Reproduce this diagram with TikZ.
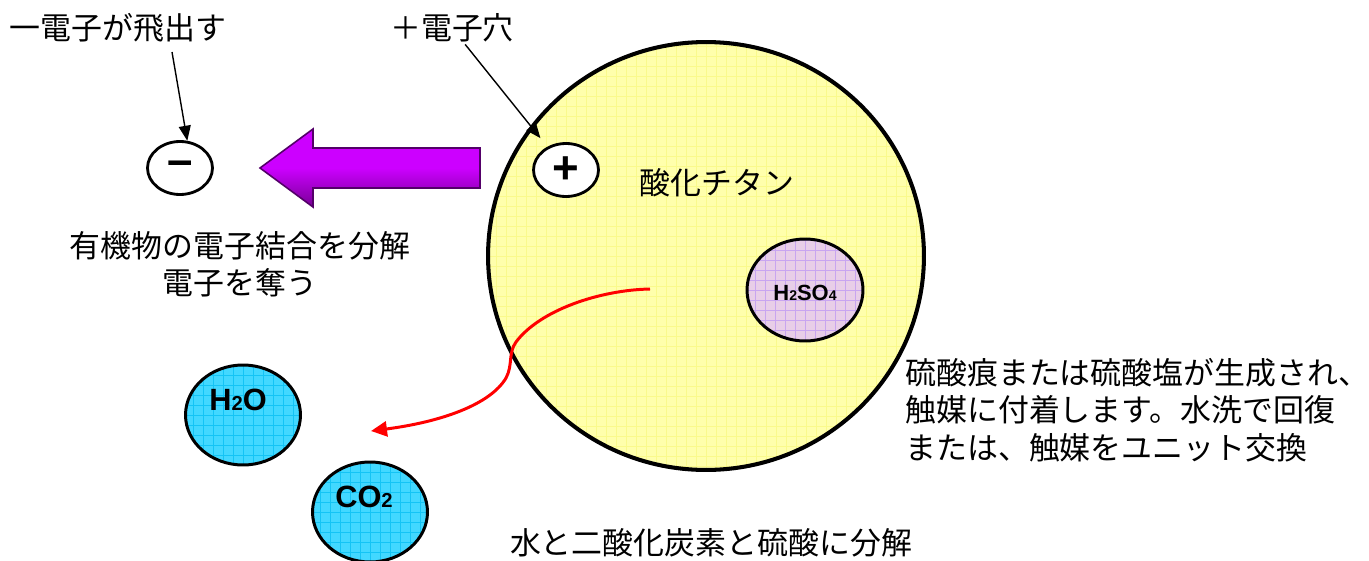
\documentclass[tikz,border=0pt]{standalone}
\usepackage{fontspec}
\setmainfont{Noto Sans CJK JP}
\newfontfamily\chemfont{Liberation Sans}
\usetikzlibrary{shapes,arrows.meta}

\definecolor{tiyellow}{RGB}{255,255,172}
\definecolor{tigrid}{RGB}{250,250,140}
\definecolor{acidfill}{RGB}{232,206,232}
\definecolor{acidgrid}{RGB}{200,165,240}
\definecolor{gasfill}{RGB}{66,216,255}
\definecolor{gasgrid}{RGB}{20,196,245}
\definecolor{arrowpurple}{RGB}{204,0,255}
\definecolor{arrowdark}{RGB}{120,0,150}

\newcommand{\chemsub}[1]{{\fontsize{11.5}{11.5}\selectfont #1}}
\newcommand{\acidsub}[1]{{\fontsize{8}{8}\selectfont #1}}

\tikzset{
	jptext/.style={font=\fontsize{17.6}{21.3}\selectfont, inner sep=1pt},
	gridfill/.style={path picture={\draw[#1, line width=0.45pt] (path picture bounding box.south west) grid[step=0.2cm] (path picture bounding box.north east);}},
	charge/.style={ellipse, draw, line width=1.6pt, fill=white, inner sep=0pt, minimum width=1.3cm, minimum height=1.06cm, font=\chemfont\bfseries\fontsize{26}{26}\selectfont},
	molecule/.style={ellipse, draw, line width=1.7pt, inner sep=0pt, fill=gasfill, gridfill=gasgrid, minimum width=2.3cm, minimum height=2cm},
	chemlabel/.style={font=\chemfont\bfseries\fontsize{17.5}{17.5}\selectfont, inner sep=0pt},
	pointer/.style={line width=0.8pt, -{Triangle[length=0.3cm, width=0.24cm]}},
	redflow/.style={red, line width=1.7pt, -{Triangle[length=0.32cm, width=0.3cm]}}
}

\begin{document}
\begin{tikzpicture}[x=0.02cm, y=-0.02cm]
	\useasboundingbox (0,0) rectangle (1369,561);

	% titanium oxide particle
	\node[ellipse, draw, line width=2.3pt, fill=tiyellow, gridfill=tigrid, minimum width=8.72cm, minimum height=8.56cm, inner sep=0pt] (tio2) at (706,256) {};
	\node[jptext] (tio2label) at (717,183) {酸化チタン};

	\node[ellipse, draw, line width=1.7pt, fill=acidfill, gridfill=acidgrid, minimum width=2.32cm, minimum height=2.04cm, inner sep=0pt] (acid) at (805,290) {};
	\node[font=\chemfont\bfseries\fontsize{12.5}{12.5}\selectfont, inner sep=0pt] (acidlabel) at (805,293) {H\acidsub{2}SO\acidsub{4}};

	% charges
	\node[charge] (hole) at (566,170) {+};
	\node[charge] (electron) at (180,168) {–};

	\node[jptext] (electronlabel) at (118,28) {一電子が飛出す};
	\node[jptext] (holelabel) at (452,28) {＋電子穴};
	\coordinate (electronstart) at (172,52);
	\draw[pointer] (electronstart) -- (electron.75);
	\draw[pointer, shorten >=0.22cm] (holelabel) -- (hole);

	% purple arrow
	\draw[line width=0.9pt, draw=arrowdark!70!black, top color=arrowpurple, bottom color=arrowdark, middle color=arrowpurple]
		(480,148) -- (313,148) -- (313,129) -- (260,168) -- (313,207) -- (313,188) -- (480,188) -- cycle;

	\node[jptext, align=center] (organic) at (240,264) {有機物の電子結合を分解\\電子を奪う};

	% products
	\node[molecule] (water) at (243,415) {};
	\node[chemlabel] (waterlabel) at (238,400) {H\chemsub{2}O};
	\node[molecule] (carbon) at (370,512) {};
	\node[chemlabel] (carbonlabel) at (364,497) {CO\chemsub{2}};

	\coordinate (redstart) at (650,289);
	\coordinate (redend) at (371,431);
	\draw[redflow] (redstart) .. controls (600,290) and (540,310) .. (516,342)
		.. controls (508,353) and (513,365) .. (506,378)
		.. controls (490,405) and (440,422) .. (redend);

	\node[jptext, align=left, anchor=west, inner sep=0pt] (sulfate) at (905,410) {硫酸痕または硫酸塩が生成され、\\触媒に付着します。水洗で回復\\または、触媒をユニット交換};
	\node[jptext] (products) at (711,543) {水と二酸化炭素と硫酸に分解};
\end{tikzpicture}
\end{document}
